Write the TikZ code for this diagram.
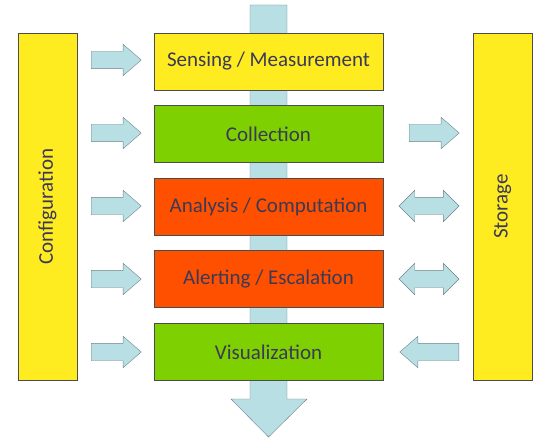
\documentclass[tikz,border=0pt]{standalone}
\usepackage{fontspec}
\setmainfont{Carlito}
\usetikzlibrary{shapes.arrows}
\definecolor{boxyellow}{RGB}{255,236,32}
\definecolor{boxgreen}{RGB}{126,208,0}
\definecolor{boxorange}{RGB}{255,80,0}
\definecolor{flowblue}{RGB}{184,224,228}
\definecolor{flowedge}{RGB}{110,130,135}
\definecolor{textgray}{RGB}{58,58,88}

\begin{document}
\begin{tikzpicture}[x=1pt,y=-1pt]

	\tikzset{box/.style={draw=black!70, text=textgray, inner sep=0pt, minimum width=229pt, minimum height=57pt, font=\fontsize{21}{24}\selectfont}}
	\tikzset{bar/.style={draw=black!70, fill=boxyellow, text=textgray, inner sep=0pt, minimum width=347pt, minimum height=59pt, font=\fontsize{21}{24}\selectfont}}
	\tikzset{rarrow/.style={single arrow, draw=flowedge, fill=flowblue, inner xsep=0pt, inner ysep=8.5pt, minimum height=50pt, minimum width=31pt, single arrow head extend=7pt, single arrow tip angle=82, anchor=west}}
	\tikzset{darrow/.style={double arrow, draw=flowedge, fill=flowblue, inner xsep=0pt, inner ysep=8.5pt, minimum height=60pt, minimum width=31pt, double arrow head extend=7pt, double arrow tip angle=90}}

	\useasboundingbox (0,0) rectangle (538,441);

	% main flow
	\draw[draw=flowedge, fill=flowblue] (250,5) -- (287,5) -- (287,399) -- (307,399) -- (268.5,437) -- (231,399) -- (250,399) -- cycle;

	\node[box, fill=boxyellow] (sense) at (268.5,61.5) {Sensing / Measurement};
	\node[box, fill=boxgreen] (collect) at (268.5,134) {Collection};
	\node[box, fill=boxorange] (analysis) at (268.5,206.5) {Analysis / Computation};
	\node[box, fill=boxorange] (alert) at (268.5,279) {Alerting / Escalation};
	\node[box, fill=boxgreen] (visual) at (268.5,352) {Visualization};

	\node[bar, rotate=90] (config) at (47.5,206.5) {Configuration};
	\node[bar, rotate=90] (storage) at (502.5,206.5) {Storage};

	% configuration into each stage
	\node[rarrow] (c1) at (91,60) {};
	\node[rarrow] (c2) at (91,133) {};
	\node[rarrow] (c3) at (91,206) {};
	\node[rarrow] (c4) at (91,279) {};
	\node[rarrow] (c5) at (91,352) {};

	% exchange with storage
	\node[rarrow] (s2) at (409,133) {};
	\node[darrow] (s3) at (429,206) {};
	\node[darrow] (s4) at (429,279) {};
	\node[rarrow, rotate=180, minimum height=59pt] (s5) at (459,352) {};

\end{tikzpicture}
\end{document}
